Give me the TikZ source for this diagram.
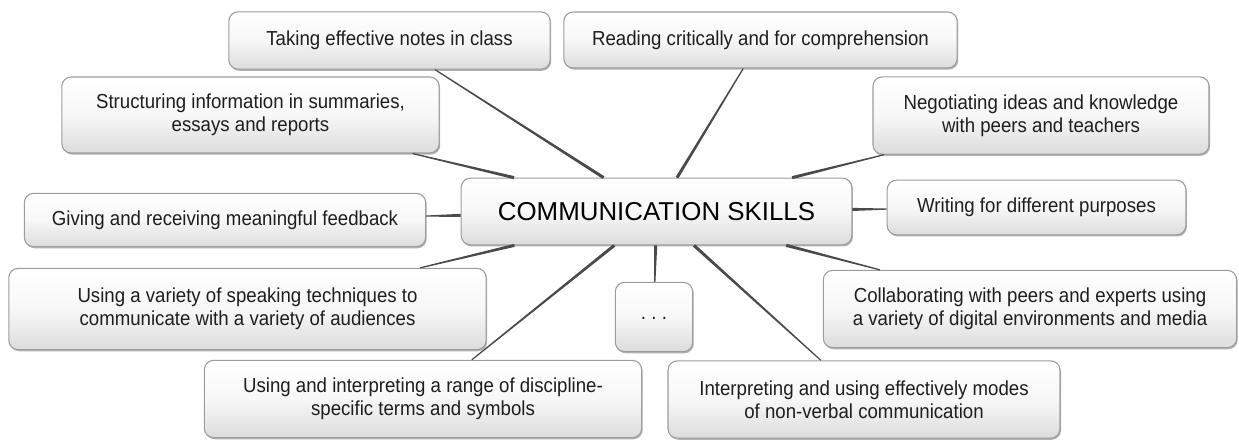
\documentclass[tikz,border=0pt]{standalone}
\usepackage{fontspec}
\setmainfont[FakeStretch=0.92]{Liberation Sans}
\newfontfamily\mainfam{Liberation Sans}
\usetikzlibrary{shadows,calc}
\definecolor{boxline}{HTML}{9C9C9C}
\definecolor{boxbot}{HTML}{DCDCDC}
\definecolor{connline}{HTML}{4A4A4A}
\definecolor{txt}{HTML}{1E1E1E}
\newcommand\taperline[2]{%
  \path (#1) -- (#2) coordinate[pos=0] (#1#2a) coordinate[pos=1] (#1#2b);
  \fill[connline] ($(#1#2a)!1.15pt!90:(#1#2b)$) -- ($(#1#2b)!0.45pt!-90:(#1#2a)$)
    -- ($(#1#2b)!0.45pt!90:(#1#2a)$) -- ($(#1#2a)!1.15pt!-90:(#1#2b)$) -- cycle;}
\begin{document}
\begin{tikzpicture}[x=0.75pt,y=-0.75pt,
  box/.style={draw=boxline, line width=0.8pt, rounded corners=7pt,
    top color=white, bottom color=boxbot, middle color=white!97!black,
    drop shadow={shadow xshift=0.8pt, shadow yshift=-1.2pt, opacity=0.3, fill=black},
    align=center, text=txt, inner sep=2pt,
    font=\fontsize{15.2}{17.5}\selectfont},
  mainbox/.style={box, font=\mainfam\fontsize{19.4}{23}\selectfont, text=black}]
\useasboundingbox (0,0) rectangle (1239,440);
\node[mainbox, minimum width=293pt, minimum height=50pt] (c) at (656.5,211.5) {COMMUNICATION SKILLS};
\node[box, minimum width=241pt, minimum height=43pt] (tk) at (389.5,40.5) {Taking effective notes in class};
\node[box, minimum width=295pt, minimum height=42pt] (rd) at (760.5,40) {Reading critically and for comprehension};
\node[box, minimum width=283pt, minimum height=57pt] (st) at (250.5,115) {Structuring information in summaries,\\essays and reports};
\node[box, minimum width=252pt, minimum height=58pt] (ng) at (1041,115.5) {Negotiating ideas and knowledge\\with peers and teachers};
\node[box, minimum width=301pt, minimum height=40pt] (gv) at (225,220) {Giving and receiving meaningful feedback};
\node[box, minimum width=224pt, minimum height=41pt] (wr) at (1036.5,207.5) {Writing for different purposes};
\node[box, minimum width=358pt, minimum height=61pt] (us) at (247.5,309) {Using a variety of speaking techniques to\\communicate with a variety of audiences};
\node[box, minimum width=58pt, minimum height=52pt] (dt) at (654,317) {\raisebox{-4pt}{.\hspace{4pt}.\hspace{4pt}.}};
\node[box, minimum width=310pt, minimum height=58pt] (cl) at (1030,309) {Collaborating with peers and experts using\\a variety of digital environments and media};
\node[box, minimum width=328pt, minimum height=58pt] (ui) at (423,399) {Using and interpreting a range of discipline-\\specific terms and symbols};
\node[box, minimum width=294pt, minimum height=58pt] (in) at (864,399.5) {Interpreting and using effectively modes\\of non-verbal communication};
\foreach \n in {tk,rd,st,ng,gv,wr,us,dt,cl,ui,in}
  {\taperline{c}{\n}}
\end{tikzpicture}
\end{document}
